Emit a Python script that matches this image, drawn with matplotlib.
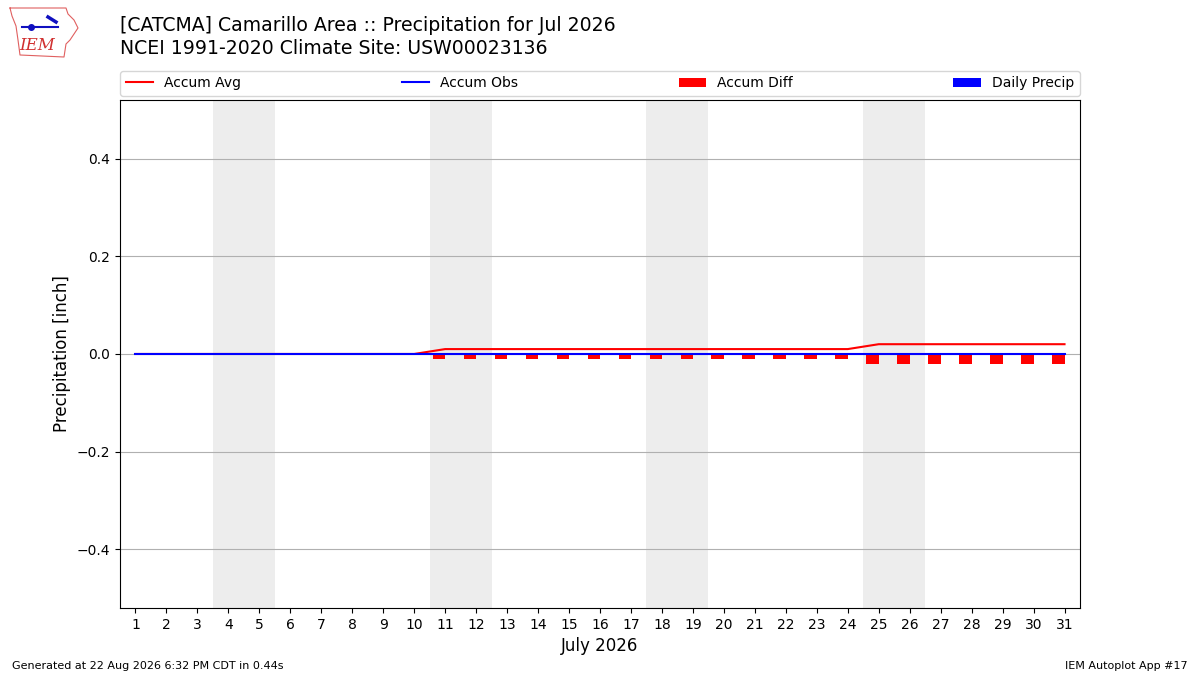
import matplotlib
matplotlib.use("Agg")
import matplotlib.pyplot as plt
from matplotlib.lines import Line2D
import numpy as np

days = list(range(1, 32))
accum_avg = [0.0] * 10 + [0.01] * 14 + [0.02] * 7
accum_obs = [0.0] * 31
daily_precip = [0.0] * 31
weekends = [(4, 5), (11, 12), (18, 19), (25, 26)]

accum_diff = [o - a for o, a in zip(accum_obs, accum_avg)]

fig = plt.figure(figsize=(12, 6.75), dpi=100)
ax = fig.add_axes([0.1, 0.0993, 0.8, 0.7526])

for s, e in weekends:
    ax.axvspan(s - 0.5, e + 0.5, color="#ededed", zorder=0, lw=0)

ax.plot(days, accum_avg, color="red", lw=1.5, label="Accum Avg", zorder=3)
ax.plot(days, accum_obs, color="blue", lw=1.5, label="Accum Obs", zorder=3)
ax.bar(days, accum_diff, width=-0.4, align="edge", color="red", label="Accum Diff", zorder=2)
ax.bar(days, daily_precip, width=0.4, align="edge", color="blue", label="Daily Precip", zorder=2)

ax.set_xlim(0.5, 31.5)
ax.set_ylim(-0.52, 0.52)
ax.set_xticks(days)
ax.set_yticks([-0.4, -0.2, 0.0, 0.2, 0.4])
ax.grid(axis="y", color="#b0b0b0", lw=0.8, zorder=1)
ax.set_axisbelow(True)
ax.set_ylabel("Precipitation [inch]", fontsize=12)
ax.set_xlabel("July 2026", fontsize=12)

ax.legend(loc="lower left", bbox_to_anchor=(0, 1.008, 1, 0.05), mode="expand",
          ncol=4, borderaxespad=0, fontsize=10)

fig.text(0.1, 0.962, "[CATCMA] Camarillo Area :: Precipitation for Jul 2026", fontsize=13.6, va="center")
fig.text(0.1, 0.928, "NCEI 1991-2020 Climate Site: USW00023136", fontsize=13.6, va="center")

# simple logo: rough state outline + text
W, H = 1200.0, 675.0
px = [10, 66, 68, 74, 78, 74, 70, 66, 64, 20, 18, 16, 12, 10]
py = [8, 8, 14, 20, 28, 34, 40, 44, 57, 55, 40, 26, 16, 8]
fig.add_artist(Line2D([x / W for x in px], [1 - y / H for y in py], color="#e06060",
                      lw=0.8, transform=fig.transFigure))
fig.text(37 / W, 1 - 45 / H, "IEM", fontsize=12, color="#d03030", family="DejaVu Serif",
         style="italic", ha="center", va="center")
fig.add_artist(Line2D([22 / W, 58 / W], [1 - 27 / H, 1 - 27 / H], color="#1010c0",
                      lw=1.5, transform=fig.transFigure))
fig.add_artist(Line2D([31 / W], [1 - 27 / H], marker="o", ms=4, color="#1010c0",
                      transform=fig.transFigure))
fig.add_artist(Line2D([48 / W, 56 / W], [1 - 17 / H, 1 - 22 / H], color="#1010c0",
                      lw=2.5, transform=fig.transFigure))

fig.text(0.01, 0.009, "Generated at 22 Aug 2026 6:32 PM CDT in 0.44s", fontsize=8)
fig.text(0.99, 0.009, "IEM Autoplot App #17", fontsize=8, ha="right")

fig.savefig("out.png", dpi=100)
